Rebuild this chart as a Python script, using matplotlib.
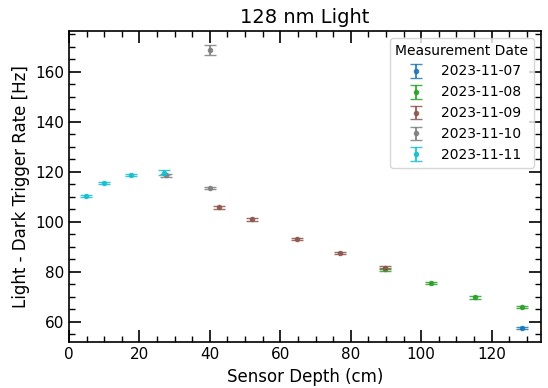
import matplotlib
matplotlib.use("Agg")
import matplotlib.pyplot as plt
from matplotlib.ticker import MultipleLocator

# data per measurement date: sensor depth (cm), rate (Hz), error (Hz)
dates = ["2023-11-07", "2023-11-08", "2023-11-09", "2023-11-10", "2023-11-11"]
colors = ["tab:blue", "tab:green", "tab:brown", "tab:gray", "tab:cyan"]

depth_1107 = [128.6]
rate_1107 = [57.5]
err_1107 = [0.4]

depth_1108 = [89.6, 102.8, 115.3, 128.6]
rate_1108 = [81.0, 75.6, 69.8, 66.0]
err_1108 = [0.5, 0.5, 0.5, 0.5]

depth_1109 = [42.5, 52.1, 64.8, 77.0, 89.6]
rate_1109 = [105.8, 101.0, 93.1, 87.5, 81.6]
err_1109 = [0.5, 0.5, 0.5, 0.5, 0.6]

depth_1110 = [27.6, 39.9, 40.0]
rate_1110 = [118.6, 168.7, 113.5]
err_1110 = [0.5, 1.9, 0.5]

depth_1111 = [4.8, 9.8, 17.7, 27.0]
rate_1111 = [110.4, 115.6, 118.7, 119.6]
err_1111 = [0.4, 0.5, 0.5, 1.0]

series = [
  (depth_1107, rate_1107, err_1107),
  (depth_1108, rate_1108, err_1108),
  (depth_1109, rate_1109, err_1109),
  (depth_1110, rate_1110, err_1110),
  (depth_1111, rate_1111, err_1111),
]

fig, ax = plt.subplots(figsize=(5.48, 3.88), dpi=100)

for (x, y, e), d, c in zip(series, dates, colors):
  ax.errorbar(x, y, yerr=e, fmt='.', color=c, capsize=4, alpha=0.85, label=d)

ax.set_xlim(0, 134)
ax.set_ylim(51.9, 176.3)
ax.set_title("128 nm Light", fontsize=14)
ax.set_xlabel("Sensor Depth (cm)", fontsize=12)
ax.set_ylabel("Light - Dark Trigger Rate [Hz]", fontsize=12)

ax.xaxis.set_major_locator(MultipleLocator(20))
ax.xaxis.set_minor_locator(MultipleLocator(5))
ax.yaxis.set_major_locator(MultipleLocator(20))
ax.yaxis.set_minor_locator(MultipleLocator(5))
ax.tick_params(which='both', direction='in', top=True, right=True, labelsize=11)
ax.tick_params(which='major', length=8.5, width=1.2)
ax.tick_params(which='minor', length=4.3, width=1)
for s in ax.spines.values():
  s.set_linewidth(1.2)

ax.legend(title="Measurement Date", loc="upper right", fontsize=10, title_fontsize=10)

fig.subplots_adjust(left=0.126, right=0.987, top=0.92, bottom=0.118)
fig.savefig("out.png", dpi=100)
